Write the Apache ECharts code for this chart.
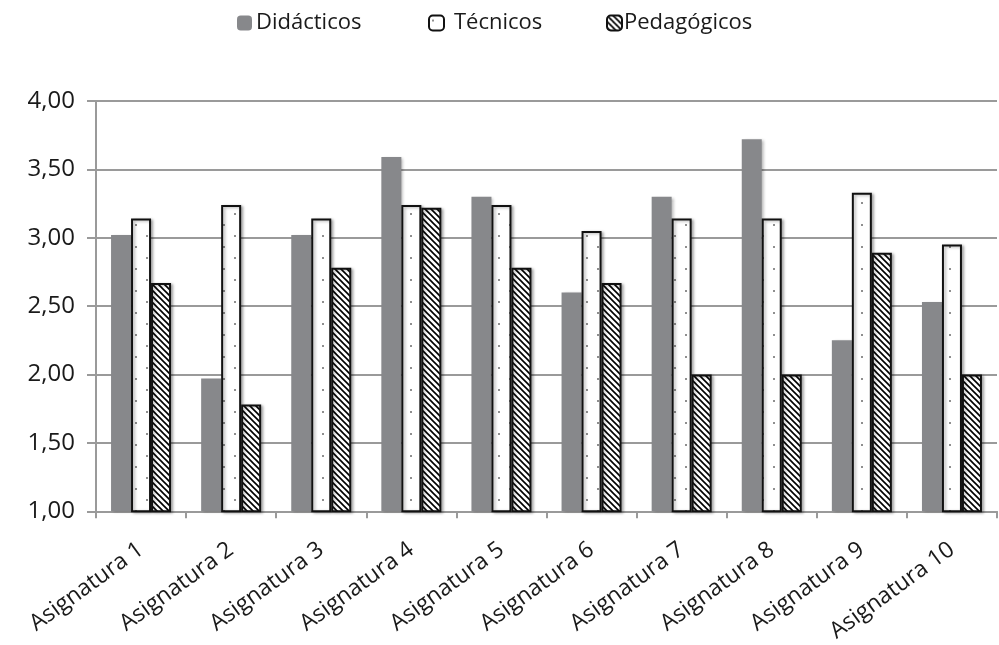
<!DOCTYPE html>
<html>
<head>
<meta charset="utf-8">
<script src="https://cdn.jsdelivr.net/npm/echarts@6/dist/echarts.min.js"></script>
<style>html,body{margin:0;padding:0;background:#fff}#c{width:999px;height:645px}</style>
</head>
<body>
<div id="c"></div>
<script>
var categories = ['Asignatura 1','Asignatura 2','Asignatura 3','Asignatura 4','Asignatura 5','Asignatura 6','Asignatura 7','Asignatura 8','Asignatura 9','Asignatura 10'];
var didacticos = [3.02, 1.97, 3.02, 3.59, 3.30, 2.60, 3.30, 3.72, 2.25, 2.53];
var tecnicos   = [3.14, 3.24, 3.14, 3.24, 3.24, 3.05, 3.14, 3.14, 3.33, 2.95];
var pedagogicos= [2.67, 1.78, 2.78, 3.22, 2.78, 2.67, 2.00, 2.00, 2.89, 2.00];
var seriesNames = ['Didácticos','Técnicos','Pedagógicos'];
var yTicks = {min:1, max:4, interval:0.5};

function dotPattern(){
  var c=document.createElement('canvas'); c.width=22; c.height=22;
  var g=c.getContext('2d'); g.fillStyle='#fff'; g.fillRect(0,0,22,22);
  g.fillStyle='#8f8f8f'; g.fillRect(3,4,2,2); g.fillRect(14,15,2,2);
  return c;
}
function hatchPattern(){
  var s=6;
  var c=document.createElement('canvas'); c.width=s; c.height=s;
  var g=c.getContext('2d'); g.fillStyle='#fff'; g.fillRect(0,0,s,s);
  g.strokeStyle='#000'; g.lineWidth=1.6;
  g.beginPath(); g.moveTo(-1,-1); g.lineTo(s+1,s+1);
  g.moveTo(-1,s-1); g.lineTo(1,s+1);
  g.moveTo(s-1,-1); g.lineTo(s+1,1);
  g.stroke();
  return c;
}
var dots={image:dotPattern(),repeat:'repeat'};
var hatch={image:hatchPattern(),repeat:'repeat'};

var chart=echarts.init(document.getElementById('c'));
var font='"Open Sans", "DejaVu Sans", sans-serif';
var shadow={shadowBlur:3,shadowColor:'rgba(0,0,0,0.3)',shadowOffsetX:2,shadowOffsetY:1};
function legend(name,left,pad){
  return {data:[name],left:left,top:12,padding:0,itemWidth:15,itemHeight:15,itemGap:0,
    textStyle:{fontSize:22,fontFamily:font,color:'#1a1a1a',padding:[0,0,0,pad]}};
}
chart.setOption({
  animation:false,
  legend:[legend(seriesNames[0],237,-1),legend(seriesNames[1],428,5),legend(seriesNames[2],606,-3)],
  grid:{left:96,right:2,top:101,bottom:132,containLabel:false},
  xAxis:{type:'category',data:categories,
    axisLine:{lineStyle:{color:'#9a9a9a',width:2}},
    axisTick:{show:true,length:7,lineStyle:{color:'#9a9a9a',width:2},alignWithLabel:false},
    axisLabel:{rotate:36,fontSize:23,fontFamily:font,color:'#1a1a1a',margin:36,interval:0}},
  yAxis:{type:'value',min:yTicks.min,max:yTicks.max,interval:yTicks.interval,
    axisLine:{show:true,lineStyle:{color:'#9a9a9a',width:2}},
    axisTick:{show:true,length:9,lineStyle:{color:'#9a9a9a',width:2}},
    splitLine:{lineStyle:{color:'#9a9a9a',width:2}},
    axisLabel:{fontSize:24,fontFamily:font,color:'#1a1a1a',margin:21,
      formatter:function(v){return v.toFixed(2).replace('.',',');}}},
  series:[
    {name:seriesNames[0],type:'bar',data:didacticos,barWidth:20,barGap:'0%',
      itemStyle:Object.assign({color:'#87888b'},shadow)},
    {name:seriesNames[1],type:'bar',data:tecnicos,barWidth:20,barGap:'0%',
      itemStyle:Object.assign({color:dots,borderColor:'#111',borderWidth:2},shadow)},
    {name:seriesNames[2],type:'bar',data:pedagogicos,barWidth:20,barGap:'0%',
      itemStyle:Object.assign({color:hatch,borderColor:'#111',borderWidth:2},shadow)}
  ]
});
</script>
</body>
</html>
